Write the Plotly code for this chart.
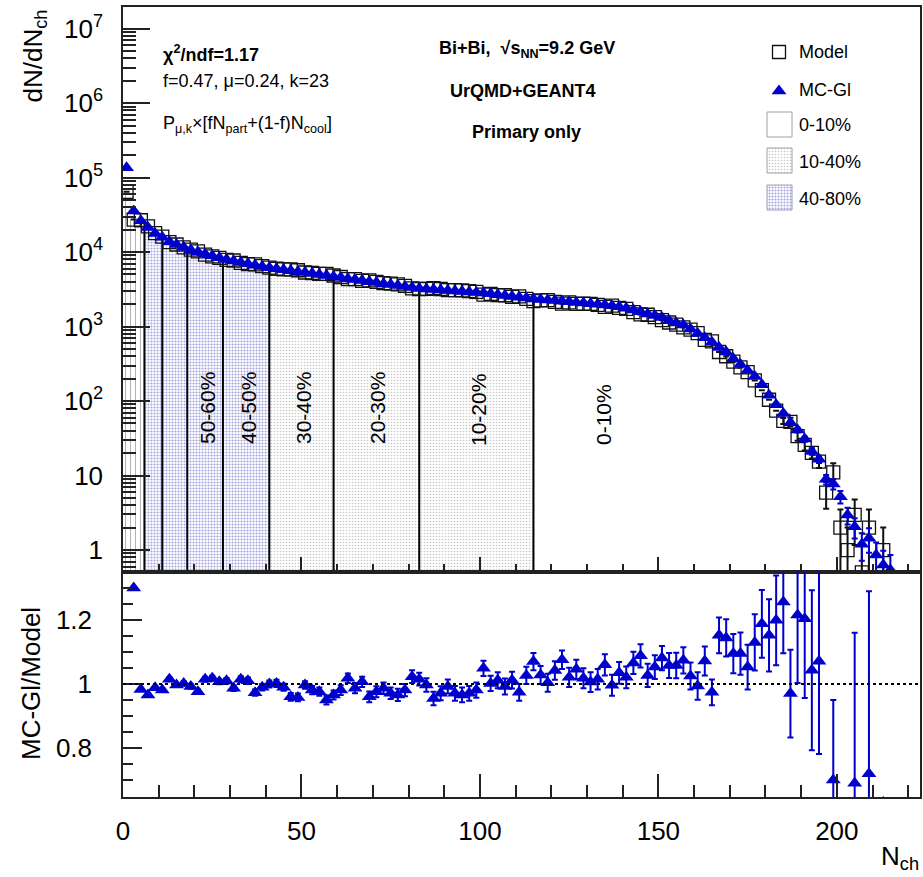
import numpy as np
import plotly.graph_objects as go

# ---------------- data ----------------
nch = list(range(1, 217, 2))  # bin centres (bin width 2)

mcgl = [
    135000, 35500, 26300, 21400, 17800, 15800, 13800, 12600, 11600, 10700,
    10000, 9400, 8900, 8400, 7950, 7600, 7250, 6950, 6650, 6400,
    6170, 5980, 5800, 5630, 5460, 5300, 5140, 4980, 4830, 4680,
    4540, 4400, 4270, 4140, 4010, 3890, 3770, 3660, 3550, 3440,
    3340, 3240, 3190, 3140, 3100, 3050, 3000, 2960, 2910, 2870,
    2820, 2750, 2680, 2610, 2540, 2480, 2410, 2350, 2310, 2270,
    2230, 2190, 2150, 2110, 2070, 2030, 1990, 1950, 1900, 1840,
    1760, 1670, 1585, 1480, 1410, 1320, 1200, 1120, 1050, 930,
    810, 710, 615, 525, 457, 370, 310, 257, 214, 166,
    120, 89, 68, 51, 41, 31, 21, 16.5, 8.9, 7.7,
    5.2, 2.95, 2.05, 1.2, 1.44, 0.86, 0.63, 0.54,
]

ratio = [
    2.1, 1.30, 0.983, 0.966, 0.988, 0.981, 1.015, 0.997, 1.002, 0.992,
    0.976, 1.015, 1.018, 1.007, 1.010, 0.987, 1.015, 1.010, 0.973, 0.990,
    1.000, 1.002, 0.990, 0.960, 0.958, 0.997, 0.981, 0.976, 0.950, 0.966,
    0.981, 1.018, 0.987, 1.007, 0.960, 0.976, 0.987, 0.971, 0.966, 0.981,
    1.023, 1.015, 0.997, 0.955, 0.971, 0.992, 0.971, 0.966, 0.971, 0.981,
    1.049, 1.002, 1.012, 0.992, 1.012, 0.974, 1.027, 1.070, 1.028, 1.004,
    1.042, 1.076, 1.021, 1.046, 1.018, 1.006, 1.015, 1.060, 0.996, 1.035,
    1.021, 1.066, 1.088, 1.027, 1.053, 1.081, 1.058, 1.058, 1.074, 1.025,
    0.994, 1.072, 0.974, 1.152, 1.144, 1.095, 1.095, 1.053, 1.130, 1.188,
    1.152, 1.199, 1.256, 0.970, 1.216, 1.204, 1.043, 1.071, 1.51, 0.70,
    2.6, 2.95, 0.69, 2.4, 0.72, None, 0.63, None,
]

ratio_err = [
    0, 0.004, 0.005, 0.005, 0.005, 0.006, 0.006, 0.006, 0.007, 0.007,
    0.007, 0.008, 0.008, 0.008, 0.009, 0.009, 0.009, 0.010, 0.010, 0.010,
    0.011, 0.011, 0.011, 0.012, 0.012, 0.012, 0.013, 0.013, 0.014, 0.014,
    0.015, 0.015, 0.016, 0.016, 0.017, 0.017, 0.018, 0.018, 0.019, 0.019,
    0.020, 0.020, 0.021, 0.021, 0.022, 0.022, 0.023, 0.023, 0.023, 0.024,
    0.024, 0.024, 0.025, 0.025, 0.026, 0.026, 0.027, 0.027, 0.028, 0.028,
    0.029, 0.029, 0.030, 0.030, 0.031, 0.031, 0.032, 0.033, 0.033, 0.034,
    0.034, 0.035, 0.036, 0.036, 0.037, 0.038, 0.039, 0.040, 0.041, 0.042,
    0.043, 0.045, 0.040, 0.056, 0.058, 0.061, 0.066, 0.070, 0.088, 0.106,
    0.113, 0.140, 0.160, 0.137, 0.213, 0.248, 0.250, 0.290, 0, 0.25,
    0, 0, 0.47, 0, 0.57, 0, 0, 0,
]

tail_nch = [185, 187, 189, 191, 193, 195, 197, 199, 201, 203, 205, 207, 209, 211, 213, 215]
mcgl_err_tail = [3.5, 3.2, 2.9, 2.5, 2.0, 1.8, 1.3, 1.2, 1.0, 0.75, 0.62, 0.48, 0.52, 0.4, 0.35, 0.32]
model_err_tail = [5, 7, 4.5, 4, 3.2, 2.8, 2.3, 3.6, 1.5, 1.0, 1.8, 0.7, 1.5, 0, 1.0, 0]

class_bounds = [6, 11, 18, 28, 41, 59, 83, 115]
class_names = ["50-60%", "40-50%", "30-40%", "20-30%", "10-20%", "0-10%"]
legend_names = ["Model", "MC-Gl", "0-10%", "10-40%", "40-80%"]

ytick_vals = [1, 10, 1e2, 1e3, 1e4, 1e5, 1e6, 1e7]
ytick_text = ["1", "10", "10<sup>2</sup>", "10<sup>3</sup>", "10<sup>4</sup>",
              "10<sup>5</sup>", "10<sup>6</sup>", "10<sup>7</sup>"]
rtick_vals = [0.8, 1.0, 1.2]
rtick_text = ["0.8", "1", "1.2"]
xtick_vals = [0, 50, 100, 150, 200]
xtick_text = ["0", "50", "100", "150", "200"]

# ---------------- derived ----------------
model = [m / r if r is not None else None for m, r in zip(mcgl, ratio)]
mcgl_err = [0.0] * len(nch)
model_err = [0.0] * len(nch)
for n, e1, e2 in zip(tail_nch, mcgl_err_tail, model_err_tail):
    i = nch.index(n)
    mcgl_err[i] = e1
    model_err[i] = e2

W, H = 923, 877
FONT = "Liberation Sans, Arial, Helvetica, sans-serif"
BLUE = "#0000cc"
YBOT = 0.1
XR = [0, 223.3]
TRI = 13

valid = [(c, v) for c, v in zip(nch, model) if v is not None]
vx = np.array([c for c, _ in valid], float)
vlog = np.log10([v for _, v in valid])


def step_polygon(x0, x1):
    xs, ys = [x0], [YBOT]
    for c, v in valid:
        lo, hi = c - 1, c + 1
        if hi <= x0 or lo >= x1:
            continue
        a, b = max(lo, x0), min(hi, x1)
        xs += [a, b]
        ys += [v, v]
    xs += [x1, x0]
    ys += [YBOT, YBOT]
    return xs, ys


pat_80_100 = dict(shape="|", fgcolor="#333333", bgcolor="white", size=5, solidity=0.15)
pat_40_80 = dict(shape=".", fgcolor="#4a4ac0", bgcolor="white", size=3, solidity=0.4)
pat_10_40 = dict(shape=".", fgcolor="#8a8a8a", bgcolor="white", size=3, solidity=0.22)

fig = go.Figure()

regions = [
    (0, class_bounds[0], pat_80_100),
    (class_bounds[0], class_bounds[4], pat_40_80),
    (class_bounds[4], class_bounds[7], pat_10_40),
]
for a, b, pat in regions:
    xs, ys = step_polygon(a, b)
    fig.add_trace(go.Scatter(x=xs, y=ys, mode="lines", fill="toself",
                             fillcolor="white", fillpattern=pat,
                             line=dict(width=0), xaxis="x", yaxis="y",
                             hoverinfo="skip", showlegend=False))

# class boundary lines
lx, ly = [], []
for b in class_bounds:
    top = 10 ** np.interp(b, vx, vlog)
    lx += [b, b, None]
    ly += [YBOT, top, None]
fig.add_trace(go.Scatter(x=lx, y=ly, mode="lines", line=dict(color="black", width=2),
                         xaxis="x", yaxis="y", showlegend=False, hoverinfo="skip"))

# Model squares
mx = [c for c, v in zip(nch, model) if v is not None]
my = [v for v in model if v is not None]
me = [e for e, v in zip(model_err, model) if v is not None]
fig.add_trace(go.Scatter(
    x=mx, y=my, mode="markers", xaxis="x", yaxis="y", showlegend=False,
    marker=dict(symbol="square-open", size=13, color="#111111", line=dict(width=1.3, color="#111111")),
    error_y=dict(type="data", array=me, color="#111111", thickness=2, width=3)))

# MC-Gl triangles
fig.add_trace(go.Scatter(
    x=nch, y=mcgl, mode="markers", xaxis="x", yaxis="y", showlegend=False,
    marker=dict(symbol="triangle-up", size=TRI, color=BLUE),
    error_y=dict(type="data", array=mcgl_err, color=BLUE, thickness=2, width=3)))

# ratio panel
rx = [c for c, r in zip(nch, ratio) if r is not None]
ry = [r for r in ratio if r is not None]
re_ = [e for e, r in zip(ratio_err, ratio) if r is not None]
fig.add_trace(go.Scatter(
    x=rx, y=ry, mode="markers", xaxis="x2", yaxis="y2", showlegend=False,
    marker=dict(symbol="triangle-up", size=TRI, color=BLUE),
    error_y=dict(type="data", array=re_, color=BLUE, thickness=2, width=3)))

# ---------------- overlay (window pixel coordinates) for legend ----------------
fig.add_trace(go.Scatter(x=[779], y=[52], mode="markers", xaxis="x3", yaxis="y3",
                         marker=dict(symbol="square-open", size=13, color="#111111",
                                     line=dict(width=1.3, color="#111111")),
                         showlegend=False, hoverinfo="skip"))
fig.add_trace(go.Scatter(x=[779], y=[91], mode="markers", xaxis="x3", yaxis="y3",
                         marker=dict(symbol="triangle-up", size=TRI, color=BLUE),
                         showlegend=False, hoverinfo="skip"))
box_specs = [(112, None, "#a0a0a0"), (148, pat_10_40, "#a0a0a0"), (185, pat_40_80, "#9a9ab8")]
for top, pat, lc in box_specs:
    kw = dict(fillpattern=pat) if pat else {}
    fig.add_trace(go.Scatter(x=[767, 792, 792, 767, 767], y=[top, top, top + 25, top + 25, top],
                             mode="lines", fill="toself", fillcolor="white",
                             line=dict(color=lc, width=1), xaxis="x3", yaxis="y3",
                             showlegend=False, hoverinfo="skip", **kw))

annotations = []


def ann(x, y, text, size, xanchor="left", yanchor="middle", angle=0, xref="x3", yref="y3"):
    annotations.append(dict(x=x, y=y, xref=xref, yref=yref, text=text, showarrow=False,
                            xanchor=xanchor, yanchor=yanchor, textangle=angle,
                            font=dict(family=FONT, size=size, color="black")))


ann(161, 53, "<b>χ<sup>2</sup>/ndf=1.17</b>", 18)
ann(161, 81, "f=0.47, μ=0.24, k=23", 18)
ann(161, 124, "P<sub>μ,k</sub>×[fN<sub>part</sub>+(1-f)N<sub>cool</sub>]", 18)
ann(527, 49, "<b>Bi+Bi,  √s<sub>NN</sub>=9.2 GeV</b>", 18, xanchor="center")
ann(523, 91, "<b>UrQMD+GEANT4</b>", 18, xanchor="center")
ann(526, 132, "<b>Primary only</b>", 18, xanchor="center")

legend_y = [52, 90, 125, 162, 199]
for name, yy in zip(legend_names, legend_y):
    ann(797, yy, name, 18)

label_x_px = [207, 248, 303, 377, 478, 603]
label_y_px = [408, 408, 408, 408, 410, 415]
for name, xx, yy in zip(class_names, label_x_px, label_y_px):
    ann(xx, yy, name, 21, xanchor="center", angle=-90)

ann(34, 8, "dN/dN<sub>ch</sub>", 26, xanchor="center", yanchor="top", angle=-90)
ann(31, 684, "MC-Gl/Model", 26, xanchor="center", angle=-90)
ann(921, 857, "N<sub>ch</sub>", 26, xanchor="right")

shapes = [dict(type="line", xref="x2", yref="y2", x0=XR[0], x1=XR[1], y0=1, y1=1,
               line=dict(color="black", width=2, dash="3px,3px"))]


def dom_x(a, b):
    return [a / W, b / W]


def dom_y(bottom, top):
    return [1 - bottom / H, 1 - top / H]


X_DOM = dom_x(123, 920)
Y1_DOM = dom_y(572, 7)
Y2_DOM = dom_y(797, 572)
AX = dict(showgrid=False, zeroline=False, showline=True, mirror=True,
          linecolor="#222222", linewidth=1.5, ticks="inside", tickcolor="#222222",
          tickwidth=1.5, automargin=False,
          tickfont=dict(family=FONT, size=26, color="black"))

minor_log = [k * 10 ** e for e in range(-1, 8) for k in range(2, 10)]

fig.update_layout(
    width=W, height=H, margin=dict(l=0, r=0, t=0, b=0),
    paper_bgcolor="white", plot_bgcolor="rgba(0,0,0,0)", showlegend=False,
    font=dict(family=FONT, color="black"),
    xaxis=dict(domain=X_DOM, anchor="y", range=XR, showticklabels=False,
               tickvals=xtick_vals, ticklen=15,
               minor=dict(ticks="inside", ticklen=8, dtick=10, tick0=0,
                          tickcolor="#222222", tickwidth=1.5, showgrid=False), **AX),
    yaxis=dict(domain=Y1_DOM, anchor="x", type="log", range=[-0.295, 7.29],
               tickvals=ytick_vals, ticktext=ytick_text, ticklen=27,
               ticklabelstandoff=13,
               minor=dict(ticks="inside", ticklen=13, tickvals=minor_log,
                          tickcolor="#222222", tickwidth=1.5, showgrid=False), **AX),
    xaxis2=dict(domain=X_DOM, anchor="y2", range=XR, tickvals=xtick_vals,
                ticktext=xtick_text, ticklen=23, ticklabelstandoff=10,
                minor=dict(ticks="inside", ticklen=12, dtick=10, tick0=0,
                           tickcolor="#222222", tickwidth=1.5, showgrid=False), **AX),
    yaxis2=dict(domain=Y2_DOM, anchor="x2", range=[0.647, 1.35],
                tickvals=rtick_vals, ticktext=rtick_text, ticklen=19,
                ticklabelstandoff=24,
                minor=dict(ticks="inside", ticklen=10, dtick=0.05, tick0=0,
                           tickcolor="#222222", tickwidth=1.5, showgrid=False), **AX),
    xaxis3=dict(domain=[0, 1], anchor="y3", range=[0, W], visible=False, fixedrange=True),
    yaxis3=dict(domain=[0, 1], anchor="x3", range=[H, 0], visible=False, fixedrange=True),
    annotations=annotations, shapes=shapes,
)

fig.write_html(
    "out.html",
    config={"displayModeBar": False},
    post_script="document.body.style.margin='0';document.body.style.overflow='hidden';",
)
